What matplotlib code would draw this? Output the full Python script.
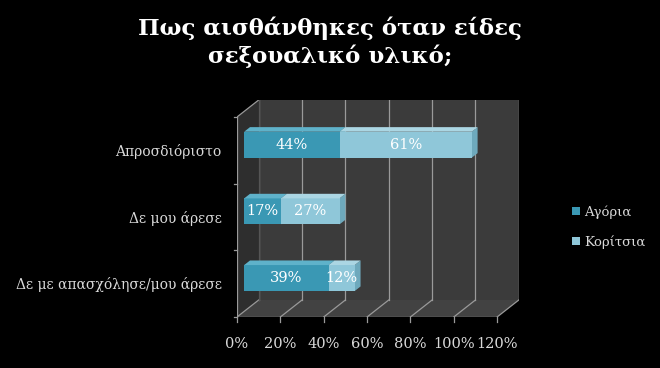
import matplotlib
matplotlib.use("Agg")
from matplotlib import pyplot as plt
from matplotlib.patches import Polygon
import numpy as np

# Data
categories = ['Δε με απασχόλησε/μου άρεσε', 'Δε μου άρεσε', 'Απροσδιόριστο']
boys = [39, 17, 44]
girls = [12, 27, 61]
series_names = ['Αγόρια', 'Κορίτσια']
xticks = [0, 20, 40, 60, 80, 100, 120]

# depth of the 3d box (x in %, y in category units)
depth_x = 10.0
depth_y = 0.255
bar_f0 = 0.33
bar_f1 = 0.6
bar_h = 0.39

wall = '#3b3b3b'
grid_c = '#9a9a9a'
txt = '#d9d9d9'
boys_c = ('#3a98b4', '#5fb2ca', '#2c7d95')   # front, top, side
girls_c = ('#8fc7d9', '#abd6e3', '#6ea9bc')

plt.rcParams['font.family'] = ['DejaVu Serif']

fig = plt.figure(figsize=(6.6, 3.68), dpi=100, facecolor='black')
W, H = 660, 368
ax = fig.add_axes([237 / W, (H - 317) / H, (519 - 237) / W, (317 - 100) / H])
ax.set_facecolor('black')
ax.set_xlim(0, 120 + depth_x + 0.1)
ax.set_ylim(-0.5, 2.5 + depth_y)
for s in ax.spines.values():
    s.set_visible(False)
ax.set_xticks([])
ax.set_yticks([])

x0, x1 = 0, 120
y0, y1 = -0.5, 2.5
# back wall
ax.add_patch(Polygon([(x0 + depth_x, y0 + depth_y), (x1 + depth_x, y0 + depth_y),
                      (x1 + depth_x, y1 + depth_y), (x0 + depth_x, y1 + depth_y)],
                     closed=True, fc=wall, ec='none', zorder=0))
# floor
ax.add_patch(Polygon([(x0, y0), (x1, y0), (x1 + depth_x, y0 + depth_y), (x0 + depth_x, y0 + depth_y)],
                     closed=True, fc='#424242', ec='none', zorder=0))
# left wall
ax.add_patch(Polygon([(x0, y0), (x0 + depth_x, y0 + depth_y), (x0 + depth_x, y1 + depth_y), (x0, y1)],
                     closed=True, fc='#2e2e2e', ec='none', zorder=0))

# gridlines on back wall and floor
for t in xticks:
    ax.plot([t + depth_x, t + depth_x], [y0 + depth_y, y1 + depth_y], color=grid_c, lw=0.9, zorder=1)
    ax.plot([t, t + depth_x], [y0, y0 + depth_y], color=grid_c, lw=0.9, zorder=1)
# wall edges
ax.plot([x0, x0 + depth_x], [y1, y1 + depth_y], color=grid_c, lw=0.9, zorder=1)
ax.plot([x0, x0], [y0, y1], color=grid_c, lw=0.9, zorder=1)
ax.plot([x0, x1], [y0, y0], color=grid_c, lw=0.9, zorder=1)
ax.plot([x0 + depth_x, x0 + depth_x], [y0 + depth_y, y1 + depth_y], color='#555555', lw=0.9, zorder=1)

# ticks
for t in xticks:
    ax.plot([t, t], [y0, y0 - 0.07], color=grid_c, lw=0.9, clip_on=False)
    ax.text(t, y0 - 0.3, f'{t}%', ha='center', va='top', color=txt, fontsize=10.5, clip_on=False)
for yb in [-0.5, 0.5, 1.5, 2.5]:
    ax.plot([x0 - 1.6, x0], [yb, yb], color=grid_c, lw=0.9, clip_on=False)
ypos = np.arange(len(categories))
for y, c in zip(ypos, categories):
    ax.text(-7, y - 0.02, c, ha='right', va='center', color=txt, fontsize=10, clip_on=False)

# bars
fx = depth_x * bar_f0
fy = depth_y * bar_f0
dx = depth_x * (bar_f1 - bar_f0)
dy = depth_y * (bar_f1 - bar_f0)
starts = np.zeros(len(categories))
for vals, cols, name in [(boys, boys_c, series_names[0]), (girls, girls_c, series_names[1])]:
    vals = np.array(vals, dtype=float)
    bars = ax.barh(ypos + fy, vals, left=starts + fx, height=bar_h, color=cols[0], zorder=3, label=name)
    for b, v, s in zip(bars, vals, starts):
        bx, by, bw, bh = b.get_x(), b.get_y(), b.get_width(), b.get_height()
        ax.add_patch(Polygon([(bx, by + bh), (bx + bw, by + bh), (bx + bw + dx, by + bh + dy), (bx + dx, by + bh + dy)],
                             closed=True, fc=cols[1], ec='none', zorder=3))
        ax.add_patch(Polygon([(bx + bw, by), (bx + bw + dx, by + dy), (bx + bw + dx, by + bh + dy), (bx + bw, by + bh)],
                             closed=True, fc=cols[2], ec='none', zorder=2))
        ax.text(bx + bw / 2, by + bh / 2, f'{int(v)}%', ha='center', va='center', color='white',
                fontsize=10.5, zorder=4)
    starts = starts + vals

fig.text(0.5, 1 - 42 / H, 'Πως αισθάνθηκες όταν είδες\nσεξουαλικό υλικό;', ha='center', va='center',
         color='white', fontsize=16.5, fontweight='bold', linespacing=1.25)

leg = fig.legend(loc='center left', bbox_to_anchor=(560 / W, 1 - 227 / H), frameon=False,
                 labelcolor=txt, fontsize=9.5, handlelength=0.6, handleheight=0.6, labelspacing=1.2,
                 handletextpad=0.3)

fig.savefig('out.png', dpi=100, facecolor='black')
